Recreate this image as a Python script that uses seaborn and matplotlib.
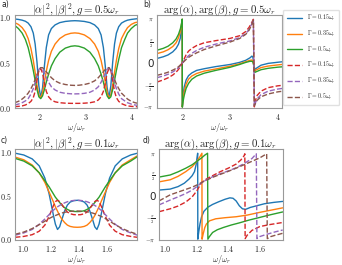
import matplotlib
matplotlib.use("Agg")
import matplotlib.pyplot as plt
import seaborn as sns
import numpy as np

# ---------------- data ----------------
gammas = [r"$\Gamma = 0.15\omega_r$", r"$\Gamma = 0.35\omega_r$", r"$\Gamma = 0.5\omega_r$"]
solid_colors = ["#1f77b4", "#ff7f0e", "#2ca02c"]
dashed_colors = ["#d62728", "#9467bd", "#8c564b"]

# panel a : |alpha|^2 (solid) and |beta|^2 (dashed), g = 0.5
w_a = [1.47, 1.55, 1.63, 1.70, 1.76, 1.82, 1.87, 1.91, 1.95, 1.99, 2.03, 2.07, 2.11, 2.15, 2.20, 2.26,
       2.34, 2.44, 2.56, 2.68, 2.765, 2.85, 2.97, 3.09, 3.19, 3.27, 3.33, 3.38, 3.42, 3.46, 3.50, 3.54,
       3.58, 3.62, 3.66, 3.71, 3.77, 3.84, 3.90, 3.98, 4.06, 4.11]
alpha2_a_015 = [.975, .97, .962, .95, .93, .89, .82, .70, .50, .24, .11, .22, .46, .66, .80, .87, .91, .935,
                .948, .954, .956, .954, .948, .935, .91, .87, .80, .66, .46, .22, .11, .24, .50, .70, .82,
                .89, .93, .95, .962, .97, .975, .978]
alpha2_a_035 = [.935, .915, .88, .83, .76, .65, .52, .39, .25, .14, .11, .17, .28, .40, .52, .62, .70, .76,
                .80, .818, .822, .818, .80, .76, .70, .62, .52, .40, .28, .17, .11, .14, .25, .39, .52, .65,
                .76, .83, .88, .915, .935, .94]
alpha2_a_05 = [.905, .87, .82, .75, .66, .53, .41, .30, .20, .12, .10, .13, .20, .28, .37, .46, .54, .61,
               .655, .675, .68, .675, .655, .61, .54, .46, .37, .28, .20, .13, .10, .12, .20, .30, .41, .53,
               .66, .75, .82, .87, .905, .915]
beta2_a_015 = [.012, .015, .02, .03, .045, .07, .11, .18, .30, .41, .43, .38, .27, .18, .12, .085, .065,
               .055, .05, .048, .048, .048, .05, .055, .065, .085, .12, .18, .27, .38, .43, .41, .30, .18,
               .11, .07, .045, .03, .02, .015, .012, .011]
beta2_a_035 = [.03, .04, .055, .075, .10, .15, .21, .28, .36, .42, .44, .42, .38, .33, .28, .23, .195, .17,
               .158, .153, .152, .153, .158, .17, .195, .23, .28, .33, .38, .42, .44, .42, .36, .28, .21,
               .15, .10, .075, .055, .04, .03, .027]
beta2_a_05 = [.055, .07, .095, .125, .16, .21, .26, .31, .36, .41, .44, .44, .42, .395, .365, .33, .295,
              .27, .255, .247, .245, .247, .255, .27, .295, .33, .365, .395, .42, .44, .44, .41, .36, .31,
              .26, .21, .16, .125, .095, .07, .055, .05]

# panel b : arg(alpha) (solid), arg(beta) (dashed), g = 0.5
w_b_solid = [1.47, 1.6, 1.7, 1.8, 1.87, 1.92, 1.96, 1.985, 1.999, 2.001, 2.015, 2.04, 2.08, 2.13, 2.2,
             2.3, 2.46, 2.7, 3.0, 3.2, 3.33, 3.42, 3.46, 3.48, 3.5, 3.52, 3.56, 3.65, 3.8, 4.0, 4.11]
argA_b_015 = [.33, .45, .58, .8, 1.05, 1.35, 1.8, 2.5, 3.1, -3.1, -2.4, -1.7, -1.2, -.9, -.7, -.52, -.4,
              -.25, -.1, .05, .2, .38, .5, .42, -.1, -.45, -.35, -.15, -.02, .06, .1]
argA_b_035 = [.68, .8, .95, 1.18, 1.45, 1.8, 2.25, 2.8, 3.13, -3.13, -2.6, -2.0, -1.5, -1.15, -.92, -.74,
              -.57, -.42, -.22, -.05, .1, .2, .22, .16, -.15, -.55, -.47, -.32, -.21, -.13, -.09]
argA_b_05 = [.92, 1.05, 1.2, 1.45, 1.72, 2.05, 2.45, 2.85, 3.14, -3.14, -2.75, -2.3, -1.8, -1.45, -1.15,
             -.92, -.72, -.52, -.3, -.1, .05, .13, .13, .08, -.2, -.66, -.6, -.47, -.37, -.29, -.26]
w_b_dash = [1.47, 1.6, 1.7, 1.8, 1.87, 1.92, 1.96, 2.0, 2.04, 2.08, 2.13, 2.2, 2.3, 2.46, 2.7, 3.0, 3.2,
            3.33, 3.4, 3.45, 3.49, 3.51, 3.53, 3.57, 3.65, 3.8, 4.0, 4.11]
argB_b_015 = [-1.35, -1.2, -1.05, -.85, -.65, -.45, -.25, 0.0, .3, .6, .85, 1.05, 1.25, 1.45, 1.6, 1.76,
              1.95, 2.25, 2.55, 2.85, 3.12, -3.12, -2.7, -2.3, -2.0, -1.75, -1.62, -1.58]
argB_b_035 = [-1.04, -.92, -.8, -.63, -.48, -.33, -.18, 0.0, .18, .35, .52, .7, .9, 1.13, 1.35, 1.58,
              1.82, 2.1, 2.4, 2.75, 3.1, -3.1, -2.85, -2.55, -2.25, -2.0, -1.85, -1.8]
argB_b_05 = [-.87, -.76, -.65, -.5, -.38, -.26, -.13, 0.0, .13, .26, .4, .55, .73, .97, 1.22, 1.5, 1.75,
             2.05, 2.35, 2.7, 3.05, -3.05, -2.9, -2.65, -2.4, -2.2, -2.05, -2.0]

# panel c : |alpha|^2, |beta|^2, g = 0.1
w_c = [0.945, 1.005, 1.065, 1.115, 1.155, 1.185, 1.215, 1.23, 1.245, 1.26, 1.275, 1.295, 1.315, 1.335,
       1.36, 1.385, 1.41, 1.435, 1.455, 1.475, 1.495, 1.51, 1.525, 1.54, 1.555, 1.585, 1.615, 1.655,
       1.705, 1.765, 1.812]
alpha2_c_015 = [.985, .965, .92, .84, .70, .52, .28, .17, .11, .14, .22, .32, .39, .425, .44, .445, .44,
                .425, .39, .32, .22, .14, .11, .17, .28, .52, .70, .84, .92, .965, .985]
alpha2_c_035 = [.94, .91, .85, .76, .65, .54, .43, .37, .32, .27, .23, .19, .16, .145, .137, .135, .137,
                .145, .16, .19, .23, .27, .32, .37, .43, .54, .65, .76, .85, .91, .955]
alpha2_c_05 = [.925, .895, .84, .76, .67, .60, .52, .48, .45, .42, .39, .36, .34, .325, .317, .315, .317,
               .325, .34, .36, .39, .42, .45, .48, .52, .60, .67, .76, .84, .895, .945]
beta2_c_015 = [.02, .03, .05, .09, .16, .26, .38, .43, .445, .43, .40, .35, .31, .29, .28, .278, .28, .29,
               .31, .35, .40, .43, .445, .43, .38, .26, .16, .09, .05, .03, .02]
beta2_c_035 = [.045, .07, .11, .17, .23, .28, .33, .35, .37, .385, .40, .415, .428, .437, .443, .445, .443,
               .437, .428, .415, .40, .385, .37, .35, .33, .28, .23, .17, .11, .07, .045]
beta2_c_05 = [.055, .08, .12, .165, .205, .235, .26, .27, .28, .29, .298, .307, .313, .318, .32, .322, .32,
              .318, .313, .307, .298, .29, .28, .27, .26, .235, .205, .165, .12, .08, .055]

# panel d : arg(alpha), arg(beta), g = 0.1
w_d_015 = [0.96, 1.03, 1.08, 1.12, 1.15, 1.17, 1.185, 1.195, 1.202, 1.205, 1.206, 1.212, 1.22, 1.23,
           1.245, 1.27, 1.3, 1.34, 1.38, 1.41, 1.43, 1.45, 1.47, 1.49, 1.51, 1.54, 1.58, 1.63, 1.69, 1.746]
argA_d_015 = [.45, .52, .7, .95, 1.25, 1.5, 1.8, 2.3, 2.9, 3.14, -3.14, -2.6, -2.0, -1.5, -1.1, -.8, -.6,
              -.4, -.22, -.12, -.15, -.35, -.7, -.92, -.96, -.82, -.7, -.55, -.45, -.38]
w_d_035 = [0.96, 1.03, 1.08, 1.13, 1.17, 1.2, 1.22, 1.232, 1.233, 1.24, 1.25, 1.26, 1.28, 1.32, 1.38, 1.45,
           1.52, 1.6, 1.68, 1.746]
argA_d_035 = [1.05, 1.2, 1.45, 1.8, 2.15, 2.55, 2.9, 3.14, -3.14, -2.76, -2.3, -2.04, -1.8, -1.65, -1.57,
              -1.5, -1.38, -1.18, -1.0, -.85]
w_d_05 = [0.96, 1.03, 1.08, 1.13, 1.17, 1.2, 1.23, 1.25, 1.268, 1.27, 1.28, 1.3, 1.33, 1.37, 1.42, 1.47,
          1.53, 1.6, 1.67, 1.746]
argA_d_05 = [1.4, 1.55, 1.78, 2.05, 2.3, 2.55, 2.8, 3.0, 3.14, -3.14, -2.95, -2.65, -2.45, -2.28, -2.1,
             -1.95, -1.75, -1.55, -1.35, -1.15]
w_d_b015 = [0.96, 1.03, 1.08, 1.13, 1.17, 1.2, 1.23, 1.26, 1.3, 1.35, 1.4, 1.45, 1.48, 1.5, 1.505, 1.507,
            1.52, 1.55, 1.6, 1.66, 1.746]
argB_d_015 = [-1.13, -.92, -.72, -.42, -.05, .4, 1.0, 1.25, 1.5, 1.8, 2.05, 2.35, 2.65, 2.95, 3.1, -3.1,
              -2.85, -2.5, -2.22, -2.08, -1.92]
w_d_b035 = [0.96, 1.03, 1.08, 1.13, 1.17, 1.2, 1.23, 1.26, 1.3, 1.35, 1.4, 1.45, 1.5, 1.55, 1.578, 1.582,
            1.6, 1.64, 1.7, 1.746]
argB_d_035 = [-.63, -.28, -.05, .2, .45, .7, .98, 1.2, 1.42, 1.65, 1.85, 2.08, 2.38, 2.75, 3.1, -3.1,
              -2.95, -2.8, -2.6, -2.47]
w_d_b05 = [0.96, 1.03, 1.08, 1.13, 1.17, 1.2, 1.23, 1.26, 1.3, 1.35, 1.4, 1.45, 1.5, 1.55, 1.6, 1.644,
           1.648, 1.67, 1.7, 1.746]
argB_d_05 = [-.34, .1, .3, .5, .66, .82, 1.0, 1.17, 1.38, 1.6, 1.82, 2.05, 2.3, 2.55, 2.8, 3.1, -3.1,
             -2.95, -2.85, -2.71]

# ---------------- style ----------------
sns.set_style("white")
plt.rcParams["font.family"] = ["DejaVu Sans"]
plt.rcParams["mathtext.fontset"] = "cm"

W, H = 342, 265
fig = plt.figure(figsize=(W / 100, H / 100), dpi=100)


def box(l, r, t, b):
    return [l / W, 1 - b / H, (r - l) / W, (b - t) / H]


ax_a = fig.add_axes(box(14.7, 137.3, 14.7, 108.0))
ax_b = fig.add_axes(box(157.3, 282.0, 14.7, 108.0))
ax_c = fig.add_axes(box(15.3, 137.3, 148.7, 240.0))
ax_d = fig.add_axes(box(159.0, 282.7, 149.0, 240.0))

LW = 1.0


def draw(ax, x, y, color, dashed):
    sns.lineplot(x=x, y=y, ax=ax, color=color, lw=LW, sort=False,
                 linestyle="--" if dashed else "-", estimator=None)


# a
for ys, c in zip([alpha2_a_015, alpha2_a_035, alpha2_a_05], solid_colors):
    draw(ax_a, w_a, ys, c, False)
for ys, c in zip([beta2_a_015, beta2_a_035, beta2_a_05], dashed_colors):
    draw(ax_a, w_a, ys, c, True)
# b
for ys, c in zip([argA_b_015, argA_b_035, argA_b_05], solid_colors):
    draw(ax_b, w_b_solid, ys, c, False)
for ys, c in zip([argB_b_015, argB_b_035, argB_b_05], dashed_colors):
    draw(ax_b, w_b_dash, ys, c, True)
# c
for ys, c in zip([alpha2_c_015, alpha2_c_035, alpha2_c_05], solid_colors):
    draw(ax_c, w_c, ys, c, False)
for ys, c in zip([beta2_c_015, beta2_c_035, beta2_c_05], dashed_colors):
    draw(ax_c, w_c, ys, c, True)
# d
for xs, ys, c in zip([w_d_015, w_d_035, w_d_05], [argA_d_015, argA_d_035, argA_d_05], solid_colors):
    draw(ax_d, xs, ys, c, False)
for xs, ys, c in zip([w_d_b015, w_d_b035, w_d_b05], [argB_d_015, argB_d_035, argB_d_05], dashed_colors):
    draw(ax_d, xs, ys, c, True)

ax_a.set_xlim(1.47, 4.11)
ax_b.set_xlim(1.476, 4.09)
ax_c.set_xlim(0.945, 1.812)
ax_d.set_xlim(0.959, 1.746)
ax_a.set_ylim(-0.003, 1.022)
ax_c.set_ylim(-0.011, 1.037)
ax_b.set_ylim(-3.2, 3.45)
ax_d.set_ylim(-3.2, 3.45)

TFS = 5.8
for ax in (ax_a, ax_c):
    ax.set_yticks([0, 0.5, 1.0])
    ax.set_yticklabels([r"$0.0$", r"$0.5$", r"$1.0$"], fontsize=TFS)
for ax in (ax_b, ax_d):
    ax.set_yticks([-np.pi, -np.pi / 2, 0, np.pi / 2, np.pi])
    labs = ax.set_yticklabels([r"$-\pi$", r"$-\frac{\pi}{2}$", "0", r"$\frac{\pi}{2}$", r"$\pi$"], fontsize=4.5)
    labs[2].set_fontsize(7.5)
for ax in (ax_a, ax_b):
    ax.set_xticks([2, 3, 4])
    ax.set_xticklabels([r"$2$", r"$3$", r"$4$"], fontsize=TFS)
for ax in (ax_c, ax_d):
    ax.set_xticks([1.0, 1.2, 1.4, 1.6])
    ax.set_xticklabels([r"$1.0$", r"$1.2$", r"$1.4$", r"$1.6$"], fontsize=TFS)

for ax in (ax_a, ax_b, ax_c, ax_d):
    for s in ax.spines.values():
        s.set_color("0.6")
        s.set_linewidth(0.8)
    ax.tick_params(axis="both", length=1.8, width=0.6, color="0.5", pad=0.8)
    ax.set_xlabel(r"$\omega/\omega_r$", fontsize=TFS, labelpad=-0.5)
    ax.set_ylabel("")

TTL = 7.8
ax_a.set_title(r"$|\alpha|^2, |\beta|^2, g = 0.5\omega_r$", fontsize=TTL, pad=1.5)
ax_b.set_title(r"$\arg(\alpha), \arg(\beta), g = 0.5\omega_r$", fontsize=TTL, pad=1.5)
ax_c.set_title(r"$|\alpha|^2, |\beta|^2, g = 0.1\omega_r$", fontsize=TTL, pad=1.5)
ax_d.set_title(r"$\arg(\alpha), \arg(\beta), g = 0.1\omega_r$", fontsize=TTL, pad=1.5)

for lab, (x, y) in zip(["a)", "b)", "c)", "d)"], [(1, 5), (143, 5), (1, 141), (143, 141)]):
    fig.text(x / W, 1 - y / H, lab, fontsize=5.5, va="center", ha="left")

# legend
from matplotlib.lines import Line2D
handles = [Line2D([], [], color=c, lw=LW) for c in solid_colors] + \
          [Line2D([], [], color=c, lw=LW, ls="--") for c in dashed_colors]
ax_b.legend(handles, gammas + gammas, loc="upper left", bbox_to_anchor=(1.01, 1.055),
            fontsize=4.3, frameon=True, fancybox=True, edgecolor="0.85", handlelength=2.6,
            labelspacing=0.95, borderpad=0.6, handletextpad=0.8, borderaxespad=0)

fig.savefig("out.png", dpi=100)
